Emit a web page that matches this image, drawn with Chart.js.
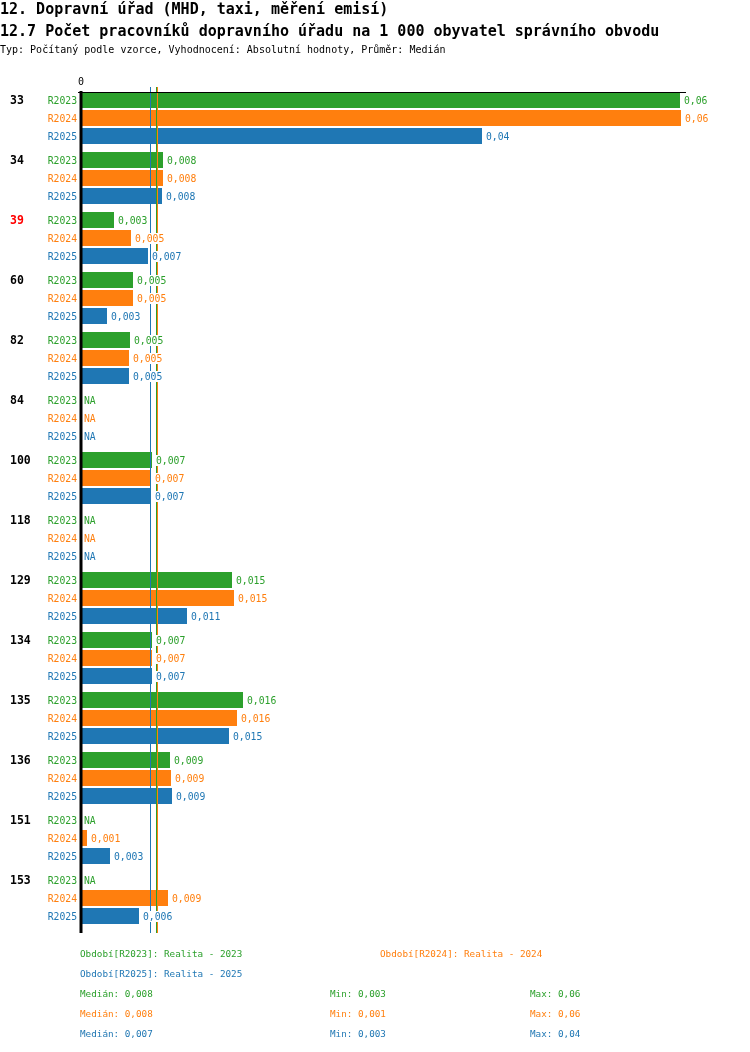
<!DOCTYPE html>
<html>
<head>
<meta charset="utf-8">
<script src="https://cdn.jsdelivr.net/npm/chart.js@4/dist/chart.umd.min.js"></script>
<style>
  body { margin: 0; background: #fff; }
  #wrap { position: relative; width: 750px; height: 1052px; font-family: 'DejaVu Sans Mono', monospace; }
  #wrap canvas { position: absolute; left: 0; top: 0; }
  .txt { position: absolute; white-space: pre; }
  .t1 { font-size: 15px; line-height: 16px; left: 0; color: #000; font-weight: bold; }
  .t3 { font-size: 10px; line-height: 12px; left: 0; top: 44px; color: #000; }
  .leg { font-size: 9.3px; line-height: 12px; }
</style>
</head>
<body>
<div id="wrap">
  <canvas id="chart" width="750" height="1052"></canvas>
  <div class="txt t1" style="top:1px">12. Dopravní úřad (MHD, taxi, měření emisí)</div>
  <div class="txt t1" style="top:23px">12.7 Počet pracovníků dopravního úřadu na 1 000 obyvatel správního obvodu</div>
  <div class="txt t3">Typ: Počítaný podle vzorce, Vyhodnocení: Absolutní hodnoty, Průměr: Medián</div>
  <div id="legend"></div>
</div>
<script>
// categories and series
const categories = ['33', '34', '39', '60', '82', '84', '100', '118', '129', '134', '135', '136', '151', '153']
const highlighted = ['39']
const periods = ['R2023', 'R2024', 'R2025']
const periodNames = ['Realita - 2023', 'Realita - 2024', 'Realita - 2025']
const colors = ['#2ca02c', '#ff7f0e', '#1f77b4']

const r2023 = [0.0599, 0.0082, 0.0033, 0.0052, 0.0049, null, 0.0071, null, 0.0151, 0.0071, 0.0162, 0.0089, null, null]
const r2024 = [0.0600, 0.0082, 0.0050, 0.0052, 0.0048, null, 0.0070, null, 0.0153, 0.0071, 0.0156, 0.0090, 0.0006, 0.0087]
const r2025 = [0.0401, 0.0081, 0.0067, 0.0026, 0.0048, null, 0.0070, null, 0.0106, 0.0071, 0.0148, 0.0091, 0.0029, 0.0058]

const medians = [0.0075, 0.0076, 0.0069]
const medianText = ['0,008', '0,008', '0,007']
const minText = ['0,003', '0,001', '0,003']
const maxText = ['0,06', '0,06', '0,04']
const xMax = 0.0605

const MONO = "'DejaVu Sans Mono', monospace"

function fmt(v) {
  return String(Math.round(v * 1000) / 1000).replace('.', ',')
}

const overlay = {
  id: 'overlay',
  afterDatasetsDraw(chart) {
    const ctx = chart.ctx
    const xs = chart.scales.x
    const area = chart.chartArea
    ctx.save()

    // median lines
    ;[2, 1, 0].forEach(d => {
      const px = Math.round(xs.getPixelForValue(medians[d])) + 0.5
      ctx.strokeStyle = colors[d]
      ctx.lineWidth = 1
      ctx.beginPath()
      ctx.moveTo(px, area.top - 1)
      ctx.lineTo(px, area.bottom + 5)
      ctx.stroke()
    })

    // top line + axis
    ctx.strokeStyle = '#000'
    ctx.lineWidth = 1
    ctx.beginPath()
    ctx.moveTo(78, area.top + 4.5)
    ctx.lineTo(area.right, area.top + 4.5)
    ctx.stroke()
    ctx.lineWidth = 3
    ctx.beginPath()
    ctx.moveTo(xs.getPixelForValue(0), area.top + 3)
    ctx.lineTo(xs.getPixelForValue(0), area.bottom + 5)
    ctx.stroke()

    ctx.fillStyle = '#000'
    ctx.font = `10px ${MONO}`
    ctx.textAlign = 'center'
    ctx.textBaseline = 'middle'
    ctx.fillText('0', xs.getPixelForValue(0), area.top - 6)

    // per-bar labels
    chart.data.datasets.forEach((ds, d) => {
      const meta = chart.getDatasetMeta(d)
      meta.data.forEach((bar, i) => {
        const y = bar.y
        ctx.font = `9.75px ${MONO}`
        ctx.textBaseline = 'middle'
        ctx.textAlign = 'right'
        ctx.fillStyle = colors[d]
        ctx.fillText(periods[d], 77, y + 1)

        const v = ds.data[i]
        const txt = v == null ? 'NA' : fmt(v)
        const x = v == null ? xs.getPixelForValue(0) + 3 : bar.x + 4
        const w = ctx.measureText(txt).width
        ctx.fillStyle = '#fff'
        ctx.fillRect(x - 1, y - 5, w + 2, 11)
        ctx.fillStyle = colors[d]
        ctx.textAlign = 'left'
        ctx.fillText(txt, x, y + 1)

        if (d === 0) {
          ctx.font = `bold 11.5px ${MONO}`
          ctx.fillStyle = highlighted.includes(categories[i]) ? '#ff0000' : '#000'
          ctx.fillText(categories[i], 10, y + 1)
        }
      })
    })
    ctx.restore()
  }
}

new Chart(document.getElementById('chart'), {
  type: 'bar',
  data: {
    labels: categories,
    datasets: [r2023, r2024, r2025].map((data, d) => ({
      label: periods[d],
      data,
      backgroundColor: colors[d],
      borderWidth: 0,
      barPercentage: 0.89,
      categoryPercentage: 0.9,
    })),
  },
  options: {
    indexAxis: 'y',
    responsive: false,
    animation: false,
    devicePixelRatio: 1,
    layout: { padding: { left: 81, right: 64, top: 88, bottom: 124 } },
    plugins: { legend: { display: false }, tooltip: { enabled: false } },
    scales: {
      x: { display: false, min: 0, max: xMax },
      y: { display: false },
    },
  },
  plugins: [overlay],
})

// summary under the chart
const legend = document.getElementById('legend')
function addText(txt, left, top, color) {
  const el = document.createElement('div')
  el.className = 'txt leg'
  el.style.left = left + 'px'
  el.style.top = top + 'px'
  el.style.color = color
  el.textContent = txt
  legend.appendChild(el)
}
addText(`Období[${periods[0]}]: ${periodNames[0]}`, 80, 948, colors[0])
addText(`Období[${periods[1]}]: ${periodNames[1]}`, 380, 948, colors[1])
addText(`Období[${periods[2]}]: ${periodNames[2]}`, 80, 968, colors[2])
periods.forEach((p, d) => {
  const top = 988 + d * 20
  addText(`Medián: ${medianText[d]}`, 80, top, colors[d])
  addText(`Min: ${minText[d]}`, 330, top, colors[d])
  addText(`Max: ${maxText[d]}`, 530, top, colors[d])
})
</script>
</body>
</html>
